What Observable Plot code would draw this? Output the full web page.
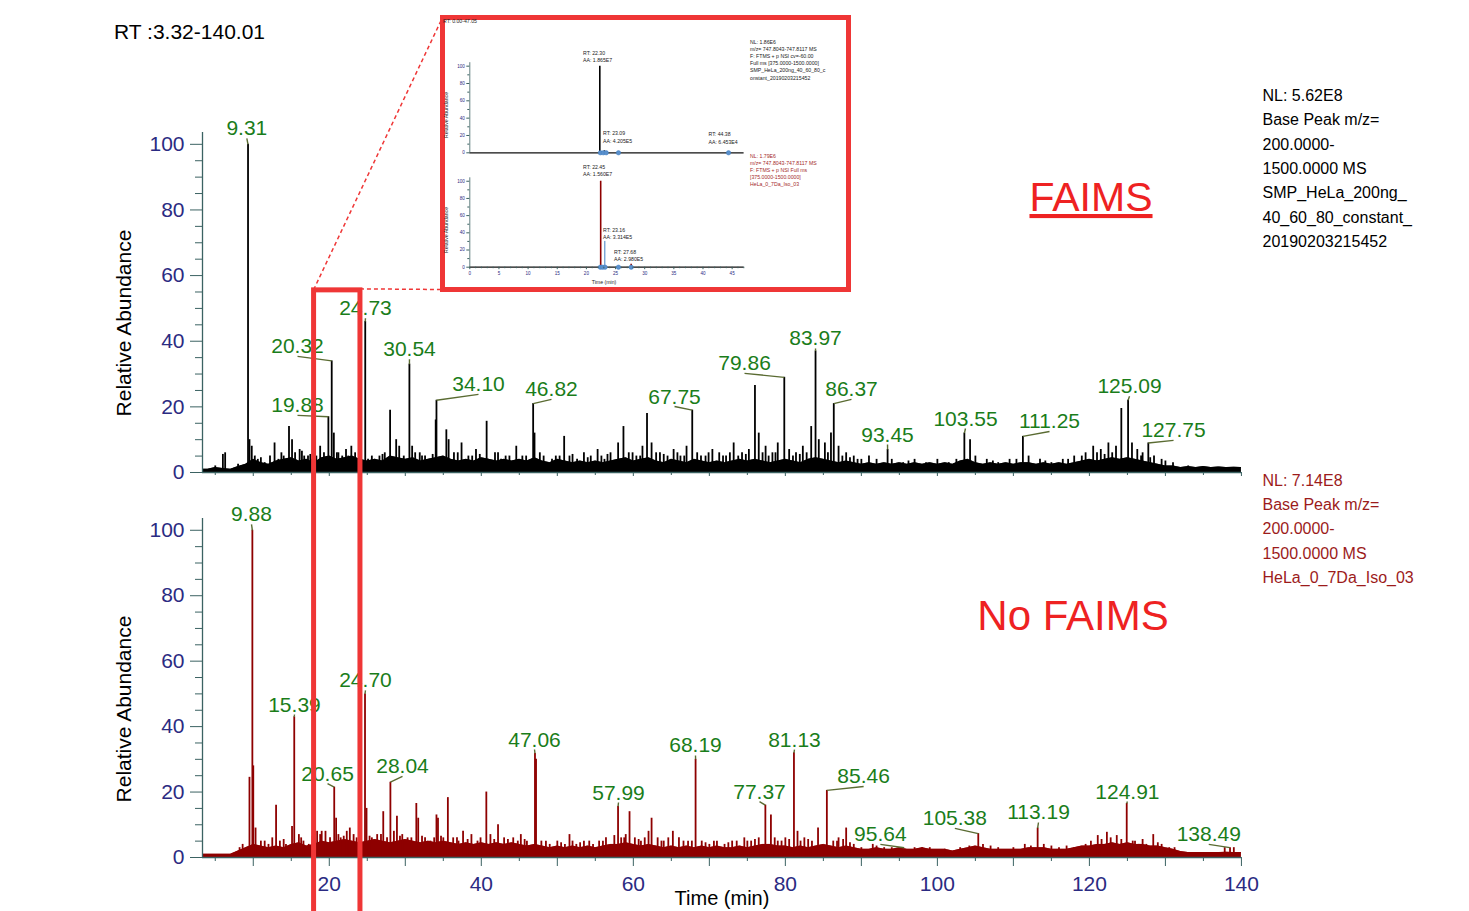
<!DOCTYPE html>
<html><head><meta charset="utf-8">
<script src="https://cdn.jsdelivr.net/npm/d3@7"></script>
<script src="https://cdn.jsdelivr.net/npm/@observablehq/plot@0.6"></script>
<style>
html,body{margin:0;padding:0;background:#fff;}
#fig{position:relative;width:1469px;height:911px;overflow:hidden;background:#fff;}
</style></head><body><div id="fig"></div>
<script>
// ---------------- DATA ----------------
const X_DOMAIN = [3.32, 140.01];
const Y_MAX = 103.6;
const yTickLabels = [0, 20, 40, 60, 80, 100];
const yMinorTicks = [5, 10, 15, 25, 30, 35, 45, 50, 55, 65, 70, 75, 85, 90, 95];
const xMajorTicks = [10, 20, 30, 40, 50, 60, 70, 80, 90, 100, 110, 120, 130, 140];
const xMinorTicks = [5, 15, 25, 35, 45, 55, 65, 75, 85, 95, 105, 115, 125, 135];
const xTickLabels = [20, 40, 60, 80, 100, 120, 140];
const NOISE_START = 3; // noise envelopes sampled once per minute from 3 min

// FAIMS (top, black) peaks: [RT min, relative abundance]
const faimsPeaks = [
  [5.0,2],[6.0,5.5],[6.3,6],[8.0,2.5],[9.31,100],[9.5,10],[9.8,8],[10.2,5],[10.6,4],[11.5,3],
  [12.8,9],[13.3,4],[14.0,5],[14.7,14],[15.1,10],[15.5,6],[16.1,7],[16.7,5],[17.2,5],[17.7,4],
  [18.3,5],[18.8,8],[19.3,6],[19.88,17],[20.32,34],[20.6,12],[21.2,6],[21.7,5],[22.2,7],[22.9,8],
  [23.4,6],[23.9,13],[24.73,46],[25.1,4],[26.0,4],[26.6,5],[27.3,6],[28.0,19],[28.8,10],[29.2,8],
  [29.8,5],[30.54,33],[30.9,8],[31.9,6],[32.6,5],[33.2,4],[34.0,16],[34.1,22],[35.4,13],[35.7,10],
  [36.4,6],[37.4,9],[38.3,5],[39.3,7],[40.7,15.6],[41.8,6],[42.6,4],[43.7,5],[44.6,8],[45.4,5],
  [46.82,21],[47.0,12],[48.2,5],[49.3,4],[50.3,5],[50.9,11],[51.6,5],[52.6,4],[53.5,6],[54.4,5],
  [55.3,7],[56.2,4],[57.0,6],[58.0,9],[58.7,14],[59.4,6],[60.4,5],[61.2,8],[61.8,18],[62.4,9],
  [63.5,6],[64.5,5],[65.3,7],[66.2,5],[67.0,8],[67.75,19],[68.4,6],[69.5,5],[70.4,7],[71.3,6],
  [72.2,5],[73.2,9],[74.3,6],[75.2,7],[76.0,26.5],[76.5,12],[77.4,8],[78.3,6],[79.0,9],[79.86,29],
  [80.5,7],[81.4,6],[82.3,8],[83.4,14],[83.97,37],[84.4,10],[85.2,9],[86.0,12],[86.37,21],[87.0,8],
  [88.0,6],[89.0,5],[90.0,4],[91.0,5],[92.0,4],[93.45,7],[94.0,4],[95.5,3],[97.0,4],[98.5,3],
  [100.0,4],[101.5,3],[103.55,12],[104.3,10],[105.0,5],[106.5,4],[108.0,3],[109.5,4],[111.25,11],[112.0,5],
  [113.5,4],[115.0,3],[116.5,4],[118.0,5],[119.5,6],[120.5,8],[121.5,7],[122.5,9],[123.5,8],[124.2,19.5],
  [125.09,22],[125.6,9],[126.3,7],[127.0,6],[127.75,9],[128.5,5],[129.5,4],[131.0,3],[133.0,2],[135.0,1.5],
  [137.0,1.5],[139.0,1.5],
  [11.0,4.5],[12.2,5],[13.7,6],[16.4,6.5],[17.5,5.5],[21.0,6],[22.5,5],[25.6,5],[27.0,5.5],[31.3,6],
  [32.2,5],[33.6,5.5],[36.9,6],[38.8,5],[39.8,5.5],[42.2,6],[43.2,5],[45.9,5],[47.7,6],[49.8,5],
  [52.0,5.5],[54.0,4.5],[55.8,5],[56.6,5.5],[59.9,6],[60.9,5],[63.0,6],[64.0,5.5],[65.8,6],[66.7,5],
  [68.9,5],[69.9,6],[71.8,5],[72.7,6],[73.8,5],[74.8,5.5],[77.0,6],[77.8,5],[78.7,6],[81.0,5],
  [81.9,5.5],[82.8,6],[85.6,6],[87.5,5],[88.5,4.5],[89.5,4],[96.2,3.5],[102.5,4],[107.3,3.5],[110.4,4],
  [114.2,3.5],[117.2,4],[119.0,5],[121.0,6],[122.0,5.5],[123.0,6],[126.8,5],[128.0,4.5],[130.0,3.5]
];
const faimsNoise = [
  1.0,
  1.0,1.5,1.2,1.0,1.8,2.5,4,3,2.5,3.5,
  4,4.5,3.5,4,3,4.5,5,4,4.5,5,
  4,3.5,4,3.5,5,4.5,4,4.5,3.5,4,
  4.5,5,4,3.5,4,3.5,4.5,4,3.5,4,
  3.5,4,3.5,4.5,3.5,3,4,3.5,3,3.5,
  3,3.5,3,3.5,4,4.5,3.5,4,4.5,3.5,
  3,4,3.5,3,4,3.5,3,3.5,3,3.5,
  4,3.5,4,3.5,3,3.5,4,3.5,3,4,
  4.5,4,3.5,3,3.5,3,2.5,3,2.5,3,
  2.5,3,2.5,3,2.5,3,2.5,3,2.5,3.5,
  4,3,2.5,3,2.5,3,2.5,3,3,2.5,
  3,2.5,3,2.5,3,3.5,4,3.5,4,4.5,
  4,4.5,4,3.5,3,2.5,2,2,1.5,1.8,
  1.5,1.8,1.5,1.7,1.5,1.6,1.5
];
// [label, peak RT, peak height, label RT, label height]
const faimsLabels = [
  ["9.31", 9.31, 100, 9.15, 101.8],
  ["24.73", 24.73, 46, 24.76, 47],
  ["20.32", 20.32, 34, 15.82, 35.4],
  ["19.88", 19.88, 17, 15.82, 17.4],
  ["30.54", 30.54, 33, 30.55, 34.5],
  ["34.10", 34.10, 22, 39.63, 23.8],
  ["46.82", 46.82, 21, 49.23, 22.3],
  ["67.75", 67.75, 19, 65.42, 20.1],
  ["79.86", 79.86, 29, 74.63, 30.2],
  ["83.97", 83.97, 37, 83.97, 37.8],
  ["86.37", 86.37, 21, 88.7, 22.3],
  ["93.45", 93.45, 7, 93.44, 8.5],
  ["103.55", 103.55, 12, 103.7, 13.4],
  ["111.25", 111.25, 11, 114.75, 12.5],
  ["125.09", 125.09, 22, 125.28, 23.2],
  ["127.75", 127.75, 9, 131.07, 9.8]
];

// No FAIMS (bottom, dark red) peaks
const noFaimsPeaks = [
  [8.2,3],[8.6,4],[9.5,24.5],[9.88,100],[10.0,28],[10.3,9],[11.0,5],[12.0,4],[13.0,16],[13.5,5],
  [14.3,4],[15.1,9.5],[15.39,43],[16.0,7],[16.6,5],[17.3,4],[18.4,8],[19.0,8],[19.5,8],[20.1,6],
  [20.65,21.5],[20.9,12],[21.5,6],[22.3,8],[22.7,9],[23.2,7],[24.1,15],[24.70,50],[24.9,15],[25.6,6],
  [26.3,7],[27.1,14],[28.04,23],[28.5,8],[28.9,12.6],[29.6,7],[30.3,6],[31.45,16.5],[31.7,12],[32.6,6],
  [33.3,5],[34.1,13],[34.3,12],[35.0,6],[35.6,18.3],[36.3,6],[37.0,5],[37.6,8],[38.7,7],[39.5,5],
  [40.66,20],[41.2,7],[42.2,10],[43.0,6],[44.2,6],[45.2,7],[46.0,5],[47.06,31.8],[47.2,30],[47.9,5],
  [49.0,4],[50.0,5],[51.0,4],[51.6,7],[52.5,4],[53.5,5],[54.7,4],[55.5,5],[56.4,6],[57.5,6.7],
  [57.99,15.6],[58.8,6],[59.5,14],[60.2,6],[61.0,5],[62.0,8],[62.4,12],[63.2,6],[64.0,5],[65.2,8],
  [66.0,6],[67.2,5],[68.19,30],[69.0,5],[70.0,4],[71.0,5],[72.0,4],[73.0,5],[74.6,6],[75.5,5],
  [76.5,6],[77.37,16],[78.1,13],[79.0,5],[80.0,6],[81.13,32],[81.6,8],[82.5,6],[83.5,5],[84.3,9],
  [85.46,20.5],[86.3,5],[87.0,6],[88.0,9],[89.0,4],[90.0,3],[91.5,4],[93.0,3],[95.3,3],[97.0,3],
  [99.0,3],[101.0,2.5],[103.0,3],[105.38,7.3],[106.0,4],[108.0,3],[110.0,3],[111.5,4],[113.19,9],[114.0,4],
  [116.0,3],[118.0,3],[119.5,4],[121.1,6.7],[122.3,7.7],[123.6,6.7],[124.91,16.5],[125.7,5],[126.5,4],[127.5,4],
  [128.4,7],[129.5,4],[130.5,3],[137.8,3],[138.5,3],[139.0,3],
  [11.5,5],[12.5,6],[14.0,5.5],[16.3,6],[17.8,6.5],[18.8,7],[21.2,7],[21.9,6.5],[23.6,6],[25.3,6.5],
  [26.8,7],[27.6,6],[29.3,6.5],[30.8,6],[32.2,6.5],[33.8,6],[34.7,6.5],[36.8,6],[38.2,5.5],[39.9,6],
  [41.7,5.5],[43.5,5.5],[44.8,5],[45.7,5.5],[48.5,5],[50.5,4.5],[52.0,5],[53.0,4.5],[54.2,5],[56.0,5],
  [58.4,6],[59.0,7],[60.7,5.5],[61.5,6],[63.7,5],[64.6,6],[66.6,5],[67.7,5],[69.5,4.5],[70.6,5],
  [72.5,4.5],[73.6,5],[75.0,5],[76.0,5.5],[78.6,6],[79.5,5],[80.5,5.5],[82.0,5],[83.0,5.5],[86.8,5],
  [87.6,5.5],[88.5,4.5],[92.0,3.5],[94.0,3],[98.0,3],[104.2,3.5],[107.0,3.5],[112.3,3.5],[115.0,3.5],[117.0,3.5],
  [120.2,5],[121.6,5.5],[122.8,6],[124.2,5.5],[126.0,5],[127.0,5.5],[129.0,4.5],[131.2,3]
];
const noFaimsNoise = [
  1,
  1,1,1,1,2,3,4,3.5,3,3.5,
  3,4,4.5,3.5,4,5,4.5,5,5.5,5,
  4.5,5,5.5,5,4.5,5,5.5,5,4.5,5,
  4.5,5,4.5,4,4.5,4,4.5,4,4.5,4,
  4.5,4,3.5,4,3.5,3,3.5,3,3.5,3,
  3.5,3,3.5,4,4,4.5,4,3.5,4,3.5,
  3,3.5,3,3.5,3,3.5,3,3.5,3,3,
  3.5,3,3.5,4,4,3.5,3.5,3,3.5,3,
  3.5,4,3.5,3,3.5,3,2.5,2.5,3,2.5,
  2.5,3,2.5,2.5,3,2.5,2.5,2.5,2,2.5,
  3,3.5,3,2.5,2.5,2.5,2.5,2.5,3,3,
  3,2.5,2.5,2.5,3,3.5,3.5,4,4,4.5,
  4,4.5,4,4,3.5,3.5,3,2.5,1.8,1.5,
  1.5,1.5,1.5,1.5,1.6,1.5,1.5
];
const noFaimsLabels = [
  ["9.88", 9.88, 100, 9.77, 101.8],
  ["15.39", 15.39, 43, 15.42, 43.7],
  ["24.70", 24.70, 50, 24.76, 51.1],
  ["20.65", 20.65, 21.5, 19.77, 22.6],
  ["28.04", 28.04, 23, 29.63, 24.8],
  ["47.06", 47.06, 31.8, 47.0, 33],
  ["57.99", 57.99, 15.6, 58.05, 16.8],
  ["68.19", 68.19, 30, 68.18, 31.2],
  ["77.37", 77.37, 16, 76.6, 17.1],
  ["81.13", 81.13, 32, 81.2, 33],
  ["85.46", 85.46, 20.5, 90.3, 21.7],
  ["95.64", 95.64, 3, 92.5, 4.0],
  ["105.38", 105.38, 7.3, 102.3, 8.9],
  ["113.19", 113.19, 9, 113.3, 10.7],
  ["124.91", 124.91, 16.5, 125.0, 17.1],
  ["138.49", 138.49, 3, 135.7, 4.0]
];

// Inset (extracted ion chromatograms 0–47.05 min)
const INSET_X = [0, 47.05];
const insetYTicks = [0, 20, 40, 60, 80, 100];
const insetYMinor = [10, 30, 50, 70, 90];
const insetXTicks = [0, 5, 10, 15, 20, 25, 30, 35, 40, 45];
const insetXMinor = [1,2,3,4,6,7,8,9,11,12,13,14,16,17,18,19,21,22,23,24,26,27,28,29,31,32,33,34,36,37,38,39,41,42,43,44,46,47];
const insetTopPeaks = [[22.30,100],[23.09,2.3],[44.38,1.0]];
const insetTopAreas = [22.4, 22.9, 23.4, 25.5, 44.38];
const insetBottomPeaks = [[22.45,100],[27.68,3.5]];
const insetBottomBlue = [[23.16,30]];
const insetBottomAreas = [22.4, 22.8, 23.2, 25.5, 27.68];

// ---------------- STYLE ----------------
const FONT = '"Liberation Sans", Arial, Helvetica, sans-serif';
const AXIS = "#3b6262";
const TICK_TEXT = "#2b2b82";
const GREEN = "#1a7d1a";
const LEADER = "#5a6b32";
const RED = "#ef3636";
const NOTE_RED = "#9c1b1b";
const fig = document.getElementById("fig");

function place(el, left, top) {
  el.style.position = "absolute";
  el.style.left = left + "px";
  el.style.top = top + "px";
  fig.appendChild(el);
  return el;
}

function mkPanel(cfg) {
  const noiseData = cfg.noise.map((v, i) => ({t: NOISE_START + i, v}));
  const labelData = cfg.labels.map(([name, pt, ph, lt, lh]) => ({name, pt, ph, lt, lh}));
  return Plot.plot({
    width: 1469, height: cfg.height,
    marginLeft: 202, marginRight: 228, marginTop: cfg.marginTop, marginBottom: cfg.marginBottom,
    x: {domain: X_DOMAIN},
    y: {domain: [0, Y_MAX]},
    style: {fontFamily: FONT, background: "transparent", overflow: "visible"},
    marks: [
      Plot.areaY(noiseData, {x: "t", y: "v", fill: cfg.color, clip: "frame"}),
      Plot.lineY(noiseData, {x: "t", y: "v", stroke: cfg.color, strokeWidth: 0.8, clip: "frame"}),
      Plot.ruleX(cfg.peaks, {x: d => d[0], y1: 0, y2: d => d[1], stroke: cfg.color, strokeWidth: 1.8}),
      Plot.ruleY([0], {stroke: AXIS, strokeWidth: 1.3}),
      Plot.ruleX([X_DOMAIN[0]], {y1: 0, y2: Y_MAX, stroke: AXIS, strokeWidth: 1.3}),
      Plot.axisY({ticks: yTickLabels, tickSize: 12, tickPadding: 6, fontSize: 21, stroke: AXIS, fill: TICK_TEXT, label: null}),
      Plot.axisY({ticks: yMinorTicks, tickSize: 7, tickFormat: () => "", stroke: AXIS, label: null}),
      Plot.axisX({ticks: xMajorTicks, tickSize: cfg.xMajorSize, tickPadding: 10, fontSize: 21, stroke: AXIS, fill: TICK_TEXT, label: null,
        tickFormat: d => (cfg.xLabels && xTickLabels.includes(d)) ? String(d) : ""}),
      Plot.axisX({ticks: xMinorTicks, tickSize: cfg.xMinorSize, tickFormat: () => "", stroke: AXIS, label: null}),
      Plot.link(labelData, {x1: "lt", y1: "lh", x2: "pt", y2: "ph", stroke: LEADER, strokeWidth: 1.4}),
      Plot.text(labelData, {x: "lt", y: "lh", text: "name", fill: GREEN, fontSize: 21, lineAnchor: "bottom", dy: -3})
    ]
  });
}

const topPlot = place(mkPanel({peaks: faimsPeaks, noise: faimsNoise, labels: faimsLabels, color: "#000000",
  height: 482, marginTop: 132, marginBottom: 10, xMajorSize: 4, xMinorSize: 3, xLabels: false}), 0, 0);
const bottomPlot = place(mkPanel({peaks: noFaimsPeaks, noise: noFaimsNoise, labels: noFaimsLabels, color: "#8e0000",
  height: 429, marginTop: 36, marginBottom: 54, xMajorSize: 9, xMinorSize: 4, xLabels: true}), 0, 482);

// inset white background
const bg = document.createElement("div");
bg.style.width = "406px"; bg.style.height = "272px"; bg.style.background = "#fff";
place(bg, 442, 17);

function mkMini(cfg) {
  const marks = [
    Plot.ruleY([0], {stroke: "#111", strokeWidth: 1.3}),
    Plot.ruleX(cfg.peaks, {x: d => d[0], y1: 0, y2: d => d[1], stroke: cfg.color, strokeWidth: 1.6}),
    Plot.ruleX([0], {y1: 0, y2: 104, stroke: AXIS, strokeWidth: 0.8}),
    Plot.axisY({ticks: insetYTicks, tickSize: 3, tickPadding: 2, fontSize: 4.6, stroke: AXIS, fill: TICK_TEXT, label: null}),
    Plot.axisY({ticks: insetYMinor, tickSize: 2, tickFormat: () => "", stroke: AXIS, label: null})
  ];
  if (cfg.blue) marks.push(Plot.ruleX(cfg.blue, {x: d => d[0], y1: 0, y2: d => d[1], stroke: "#3f7fc4", strokeWidth: 1}));
  marks.push(Plot.dot(cfg.areas, {x: d => d, y: 0, r: 2.2, fill: "#5a90cc", stroke: "#3f7fc4", strokeWidth: 0.5}));
  if (cfg.xLabels) {
    marks.push(Plot.axisX({ticks: insetXTicks, tickSize: 2.5, tickPadding: 2, fontSize: 4.6, stroke: AXIS, fill: TICK_TEXT, label: null}));
    marks.push(Plot.axisX({ticks: insetXMinor, tickSize: 1.5, tickFormat: () => "", stroke: AXIS, label: null}));
  } else {
    marks.push(Plot.axisX({ticks: [], label: null}));
  }
  return Plot.plot({
    width: 400, height: cfg.height,
    marginLeft: 24.3, marginRight: 101.4, marginTop: cfg.marginTop, marginBottom: cfg.marginBottom,
    x: {domain: INSET_X},
    y: {domain: [0, 104]},
    style: {fontFamily: FONT, background: "transparent", overflow: "visible"},
    marks
  });
}
place(mkMini({peaks: insetTopPeaks, areas: insetTopAreas, color: "#000", height: 140, marginTop: 42.2, marginBottom: 7.7, xLabels: false}), 445, 20);
place(mkMini({peaks: insetBottomPeaks, blue: insetBottomBlue, areas: insetBottomAreas, color: "#8e0000", height: 128, marginTop: 17.3, marginBottom: 21.3, xLabels: true}), 445, 160);

// ---------------- OVERLAY (annotations & text) ----------------
const sx = topPlot.scale("x"), sy = topPlot.scale("y");
const svg = d3.create("svg").attr("width", 1469).attr("height", 911)
  .style("position", "absolute").style("left", "0px").style("top", "0px")
  .style("font-family", FONT);
fig.appendChild(svg.node());

// zoom window on the main chart
const zx1 = sx.apply(18.0), zx2 = sx.apply(24.1), zy = sy.apply(55.5);
svg.append("rect").attr("x", zx1).attr("y", zy).attr("width", zx2 - zx1).attr("height", 700)
  .attr("fill", "none").attr("stroke", RED).attr("stroke-width", 5);
svg.append("line").attr("x1", zx1).attr("y1", zy).attr("x2", 442.5).attr("y2", 17.5)
  .attr("stroke", RED).attr("stroke-width", 1.5).attr("stroke-dasharray", "4,3");
svg.append("line").attr("x1", zx2).attr("y1", zy - 1).attr("x2", 442.5).attr("y2", 289.5)
  .attr("stroke", RED).attr("stroke-width", 1.5).attr("stroke-dasharray", "4,3");
svg.append("rect").attr("x", 442.5).attr("y", 17.5).attr("width", 406).attr("height", 272)
  .attr("fill", "none").attr("stroke", RED).attr("stroke-width", 5);

function txt(x, y, s, o = {}) {
  const t = svg.append("text").attr("x", x).attr("y", y).text(s)
    .attr("font-size", o.size || 16).attr("fill", o.fill || "#000")
    .attr("text-anchor", o.anchor || "start");
  if (o.rotate) t.attr("transform", `rotate(-90,${x},${y})`);
  if (o.underline) t.attr("text-decoration", "underline");
  return t;
}
txt(114, 38.5, "RT :3.32-140.01", {size: 21});
txt(130.5, 323, "Relative Abundance", {size: 21, anchor: "middle", rotate: true});
txt(130.5, 709, "Relative Abundance", {size: 21, anchor: "middle", rotate: true});
txt(722, 905, "Time (min)", {size: 20, anchor: "middle"});
txt(1091, 211, "FAIMS", {size: 41, anchor: "middle", fill: "#ee2222", underline: true});
txt(1073, 630, "No FAIMS", {size: 42, anchor: "middle", fill: "#ee2222"});

const topNotes = ["NL: 5.62E8", "Base Peak m/z=", "200.0000-", "1500.0000 MS", "SMP_HeLa_200ng_", "40_60_80_constant_", "20190203215452"];
const bottomNotes = ["NL: 7.14E8", "Base Peak m/z=", "200.0000-", "1500.0000 MS", "HeLa_0_7Da_Iso_03"];
topNotes.forEach((s, i) => txt(1262.5, 100.7 + i * 24.4, s, {size: 16}));
bottomNotes.forEach((s, i) => txt(1262.5, 485.7 + i * 24.3, s, {size: 16, fill: NOTE_RED}));

// inset texts
const S = 5.2;
txt(443, 23, "RT: 0.00-47.05", {size: S, fill: "#222"});
txt(583, 54.5, "RT: 22.30", {size: S, fill: "#222"});
txt(583, 61.5, "AA: 1.865E7", {size: S, fill: "#222"});
txt(603, 135.3, "RT: 23.09", {size: S, fill: "#222"});
txt(603, 142.8, "AA: 4.205E5", {size: S, fill: "#222"});
txt(708.5, 136.2, "RT: 44.38", {size: S, fill: "#222"});
txt(708.5, 143.6, "AA: 6.453E4", {size: S, fill: "#222"});
txt(583, 169.2, "RT: 22.45", {size: S, fill: "#222"});
txt(583, 176.4, "AA: 1.560E7", {size: S, fill: "#222"});
txt(603, 231.8, "RT: 23.16", {size: S, fill: "#222"});
txt(603, 239.2, "AA: 3.314E5", {size: S, fill: "#222"});
txt(614, 253.6, "RT: 27.68", {size: S, fill: "#222"});
txt(614, 261, "AA: 2.980E5", {size: S, fill: "#222"});
txt(604, 284.2, "Time (min)", {size: S, fill: "#222", anchor: "middle"});
txt(447.5, 115, "Relative Abundance", {size: S, fill: "#222", anchor: "middle", rotate: true});
txt(447.5, 230, "Relative Abundance", {size: S, fill: "#222", anchor: "middle", rotate: true});
const insetTopNotes = ["NL: 1.86E6", "m/z= 747.8043-747.8117 MS", "F: FTMS + p NSI cv=-60.00", "Full ms [375.0000-1500.0000]", "SMP_HeLa_200ng_40_60_80_c", "onstant_20190203215452"];
const insetBottomNotes = ["NL: 1.79E6", "m/z= 747.8043-747.8117 MS", "F: FTMS + p NSI Full ms", "[375.0000-1500.0000]", "HeLa_0_7Da_Iso_03"];
insetTopNotes.forEach((s, i) => txt(750, 43.6 + i * 7.2, s, {size: S, fill: "#222"}));
insetBottomNotes.forEach((s, i) => txt(750, 157.6 + i * 7.2, s, {size: S, fill: "#a52a2a"}));
</script></body></html>
